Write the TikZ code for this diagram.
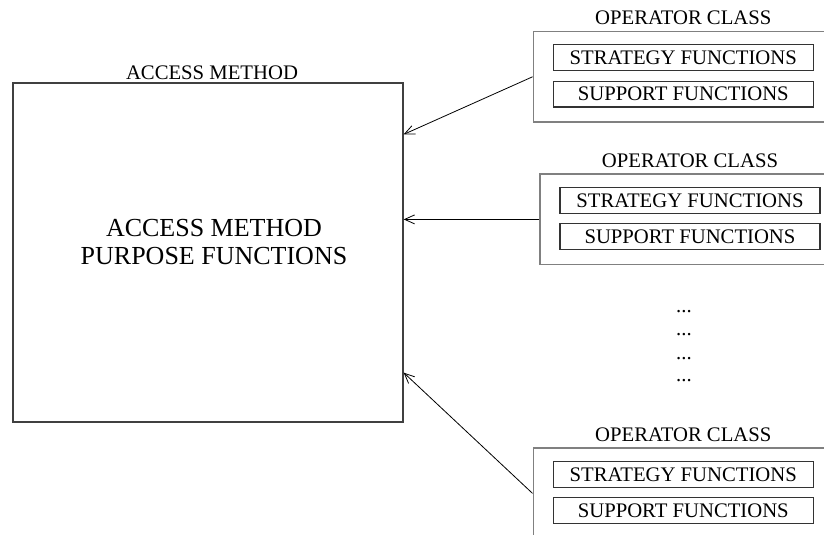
\documentclass[tikz,border=0pt]{standalone}
\usepackage{fontspec}
\setmainfont{Liberation Serif}
\usetikzlibrary{arrows.meta,calc}
\begin{document}
\begin{tikzpicture}[x=1pt,y=1pt,
  lbl/.style={font=\fontsize{20.7}{24}\selectfont, inner sep=0pt, anchor=base},
  bigtxt/.style={font=\fontsize{26}{28.4}\selectfont, inner sep=0pt, align=center},
  mainbox/.style={draw=black!75, line width=1.3pt, minimum width=390, minimum height=339, inner sep=0pt},
  opbox/.style={draw=black!50, line width=1.5pt, minimum width=300, minimum height=90.3, inner sep=0pt},
  fnbox/.style={draw=black!80, line width=1.1pt, minimum width=260, minimum height=25.8, inner sep=0pt,
    font=\fontsize{20.7}{24}\selectfont},
  conn/.style={draw=black, line width=0.8pt, -{Straight Barb[length=10pt,width=9pt,line width=0.8pt]}}
]
\useasboundingbox (0,0) rectangle (824,535);
\clip (0,0) rectangle (824,535);

% access method
\node[mainbox] (am) at (208,282.5) {};
\node[lbl] (amlabel) at (212,455) {ACCESS METHOD};
\node[bigtxt] (amtext) at (214,293) {ACCESS METHOD\\PURPOSE FUNCTIONS};

% operator class 1
\node[opbox] (op1) at (683.3,458.2) {};
\node[lbl] (op1label) at (683.3,510) {OPERATOR CLASS};
\node[fnbox] (st1) at (683.3,477.3) {STRATEGY FUNCTIONS};
\node[fnbox] (su1) at (683.3,440.9) {SUPPORT FUNCTIONS};

% operator class 2
\node[opbox] (op2) at (690,315.6) {};
\node[lbl] (op2label) at (690,367.4) {OPERATOR CLASS};
\node[fnbox] (st2) at (690,334.7) {STRATEGY FUNCTIONS};
\node[fnbox] (su2) at (690,298.3) {SUPPORT FUNCTIONS};

% dots
\node[lbl] (d1) at (684,222.5) {...};
\node[lbl] (d2) at (684,199.5) {...};
\node[lbl] (d3) at (684,175.5) {...};
\node[lbl] (d4) at (684,153.5) {...};

% operator class 3
\node[opbox] (op3) at (683.3,41.6) {};
\node[lbl] (op3label) at (683.3,93.4) {OPERATOR CLASS};
\node[fnbox] (st3) at (683.3,60.7) {STRATEGY FUNCTIONS};
\node[fnbox] (su3) at (683.3,24.3) {SUPPORT FUNCTIONS};

% arrow targets on the access method box
\coordinate (t1) at ($(am.north east)!0.153!(am.south east)$);
\coordinate (t2) at (am.east |- op2.west);
\coordinate (t3) at ($(am.north east)!0.853!(am.south east)$);

\draw[conn] (op1.west) -- (t1);
\draw[conn] (op2.west) -- (t2);
\draw[conn] (op3.west) -- (t3);
\end{tikzpicture}
\end{document}
